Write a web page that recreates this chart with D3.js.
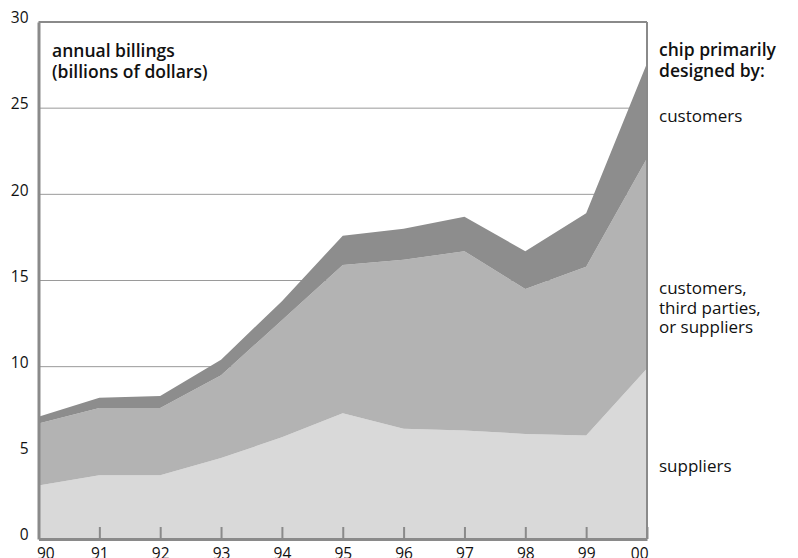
<!DOCTYPE html>
<html><head><meta charset="utf-8">
<script src="https://cdn.jsdelivr.net/npm/d3@7/dist/d3.min.js"></script>
<style>html,body{margin:0;padding:0;background:#fff}svg{display:block}</style>
</head><body>
<svg id="c" width="798" height="558"></svg>
<script>
const years = ["90","91","92","93","94","95","96","97","98","99","00"];
const suppliers = [3.1,3.7,3.7,4.7,5.9,7.3,6.4,6.3,6.1,6.0,9.9];
const mixed = [3.6,3.9,3.9,4.8,6.8,8.6,9.8,10.4,8.4,9.8,12.2];
const customers = [0.4,0.6,0.7,0.9,1.1,1.7,1.8,2.0,2.2,3.1,5.5];
const yTicks = [0,5,10,15,20,25,30];
const gridTicks = [10,15,20,25];

const font = "'Open Sans', sans-serif";
const svg = d3.select("#c");
const x = d3.scaleLinear().domain([0, years.length-1]).range([38.5, 647]);
const y = d3.scaleLinear().domain([0,30]).range([539, 22]);

const rows = years.map((yr,i)=>({i, suppliers:suppliers[i], mixed:mixed[i], customers:customers[i]}));
const keys = ["suppliers","mixed","customers"];
const colors = {suppliers:"#d9d9d9", mixed:"#b3b3b3", customers:"#8d8d8d"};
const stack = d3.stack().keys(keys)(rows);

// grid
svg.append("g").selectAll("line").data(gridTicks).join("line")
  .attr("x1", x(0)).attr("x2", x(10)).attr("y1", d=>y(d)).attr("y2", d=>y(d))
  .attr("stroke","#9a9a9a").attr("stroke-width",1);

const area = d3.area().x(d=>x(d.data.i)).y0(d=>y(d[0])).y1(d=>y(d[1]));
svg.append("g").selectAll("path").data(stack).join("path")
  .attr("d", area).attr("fill", d=>colors[d.key]);

// frame
const fc = "#8a8a8a";
svg.append("line").attr("x1",x(0)).attr("x2",x(10)).attr("y1",y(30)).attr("y2",y(30)).attr("stroke",fc).attr("stroke-width",2);
svg.append("line").attr("x1",x(10)).attr("x2",x(10)).attr("y1",y(30)).attr("y2",y(0)).attr("stroke",fc).attr("stroke-width",2);

// x axis
const xAxis = d3.axisBottom(x).tickValues(d3.range(years.length)).tickSizeInner(-12).tickSizeOuter(0).tickFormat(i=>years[i]);
const gx = svg.append("g").attr("transform",`translate(0,${y(0)})`).call(xAxis);
gx.select(".domain").attr("stroke",fc).attr("stroke-width",3);
gx.selectAll(".tick line").attr("stroke",fc).attr("stroke-width",2);
gx.selectAll(".tick text").attr("font-family",font).attr("font-size",15.5).attr("fill","#111")
  .attr("y",null).attr("dy",null).attr("transform","translate(0,20)")
  .attr("text-anchor", i=> i===0 ? "start" : (i===10 ? "end" : "middle"))
  .attr("dx", i=> i===0 ? -2 : (i===10 ? 1 : 0));

// y axis
const yAxis = d3.axisLeft(y).tickValues(yTicks).tickSize(0).tickPadding(10);
const gy = svg.append("g").attr("transform",`translate(${x(0)},0)`).call(yAxis);
gy.select(".domain").attr("stroke",fc).attr("stroke-width",3);
gy.selectAll(".tick text").attr("font-family",font).attr("font-size",15.5).attr("fill","#111").attr("dy","0.05em");

// text helper: one text element per line
const lines = (arr, x0, y0, step, size, weight) => {
  arr.forEach((s,k)=>svg.append("text").attr("x",x0).attr("y",y0+k*step)
    .attr("font-family",font).attr("font-size",size).attr("font-weight",weight).attr("fill","#111").text(s));
};
lines(["annual billings","(billions of dollars)"], 52, 57, 21, 17.5, 600);
lines(["chip primarily","designed by:"], 659, 56, 21, 17.5, 600);
lines(["customers"], 659, 122, 19.5, 17, 400);
lines(["customers,","third parties,","or suppliers"], 659, 294, 19.5, 17, 400);
lines(["suppliers"], 659, 472, 19.5, 17, 400);
</script>
</body></html>
